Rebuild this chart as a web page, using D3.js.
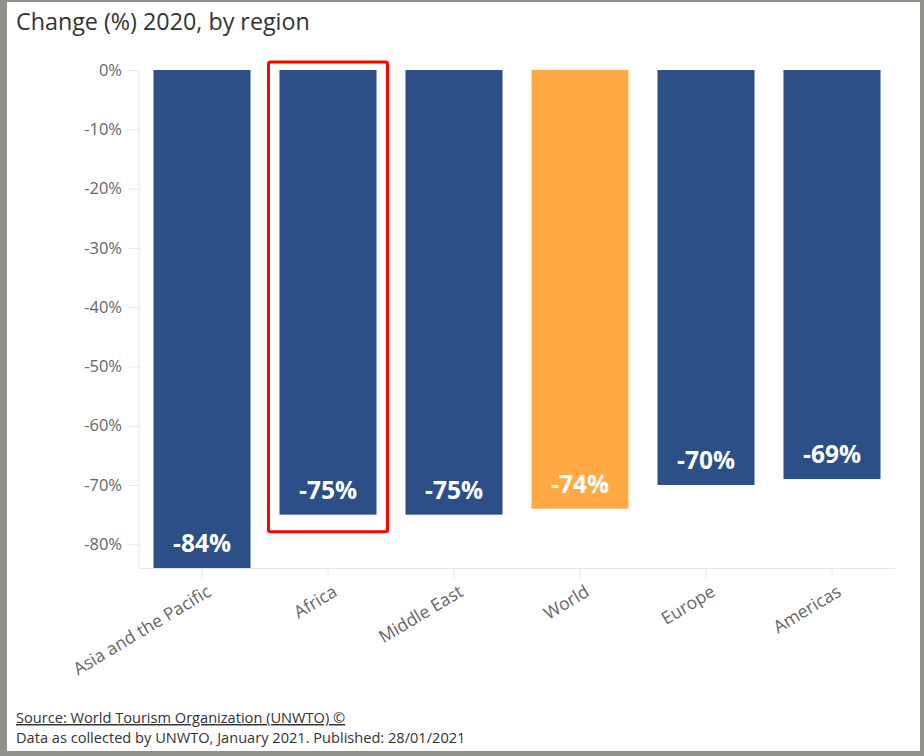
<!DOCTYPE html>
<html><head><meta charset="utf-8">
<script src="https://cdn.jsdelivr.net/npm/d3@7"></script>
<style>
body{margin:0;padding:0;background:#8e918a;}
svg{display:block;}
</style></head>
<body>
<script>
const categories = ["Asia and the Pacific","Africa","Middle East","World","Europe","Americas"];
const values = [-84,-75,-75,-74,-70,-69];
const yTicks = [0,-10,-20,-30,-40,-50,-60,-70,-80];
const highlighted = ["World"];
const boxed = ["Africa"];

const W=924,H=756;
const svg=d3.select("body").append("svg").attr("width",W).attr("height",H);
svg.append("rect").attr("width",W).attr("height",H).attr("fill","#8f938b");
svg.append("rect").attr("x",7).attr("y",2).attr("width",913).attr("height",749).attr("fill","#fff");

const font="'Open Sans', sans-serif";
svg.append("text").attr("x",16).attr("y",30).attr("font-family",font).attr("font-size",23.3)
  .attr("fill","#333").text("Change (%) 2020, by region");

const x=d3.scaleBand().domain(categories).range([139,895]).paddingInner(0.23).paddingOuter(0.115);
const y=d3.scaleLinear().domain([-84,0]).range([568,70]);

const ya=svg.append("g").attr("transform","translate(139,0)")
  .call(d3.axisLeft(y).tickValues(yTicks).tickFormat(d=>d+"%").tickSize(10).tickPadding(7));
ya.select(".domain").attr("stroke","#e6e6e6").attr("d","M0,70V568");
ya.selectAll(".tick line").attr("stroke","#e6e6e6");
ya.selectAll("text").attr("font-family",font).attr("font-size",16.5).attr("fill","#666");

const xa=svg.append("g").attr("transform","translate(0,568)")
  .call(d3.axisBottom(x).tickSize(10).tickPadding(6));
xa.select(".domain").attr("stroke","#e6e6e6").attr("d","M139,0.5H895");
xa.selectAll(".tick line").attr("stroke","#e6e6e6");
xa.selectAll("text").attr("font-family",font).attr("font-size",17.5).attr("fill","#666")
  .attr("text-anchor","end").attr("dy","0.35em")
  .attr("transform","translate(-1,8) rotate(-31)");

svg.selectAll("rect.bar").data(categories).join("rect").attr("class","bar")
  .attr("x",d=>x(d)).attr("width",x.bandwidth())
  .attr("y",y(0)).attr("height",(d,i)=>y(values[i])-y(0))
  .attr("fill",d=>highlighted.includes(d)?"#ffaa45":"#2c4f87");

svg.selectAll("text.lbl").data(categories).join("text").attr("class","lbl")
  .attr("x",d=>x(d)+x.bandwidth()/2).attr("y",(d,i)=>y(values[i])-16)
  .attr("text-anchor","middle").attr("font-family",font).attr("font-weight",700)
  .attr("font-size",24.5).attr("fill","#fff").text((d,i)=>values[i]+"%");

boxed.forEach(c=>{
  const i=categories.indexOf(c);
  svg.append("rect").attr("x",x(c)-11).attr("y",y(0)-8).attr("width",x.bandwidth()+22)
    .attr("height",y(values[i])-y(0)+25).attr("rx",2).attr("fill","none")
    .attr("stroke","#ff0000").attr("stroke-width",3);
});

svg.append("text").attr("x",16).attr("y",723).attr("font-family",font).attr("font-size",14.6).attr("fill","#333")
  .attr("text-decoration","underline").text("Source: World Tourism Organization (UNWTO) ©");
svg.append("text").attr("x",16).attr("y",743).attr("font-family",font).attr("font-size",14.6).attr("fill","#333")
  .text("Data as collected by UNWTO, January 2021. Published: 28/01/2021");
</script>
</body></html>
